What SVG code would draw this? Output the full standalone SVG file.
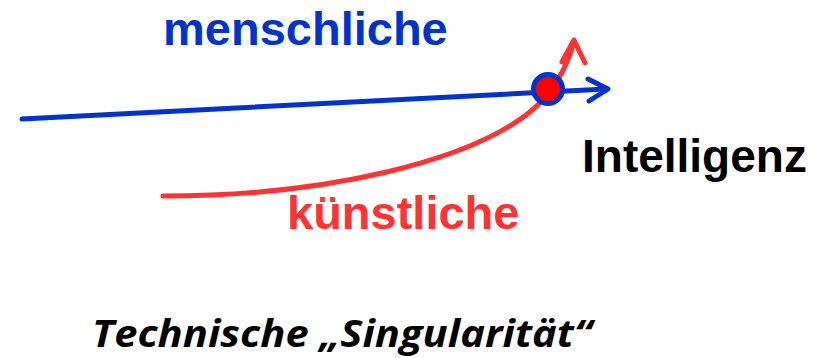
<svg xmlns="http://www.w3.org/2000/svg" width="833" height="358" viewBox="0 0 833 358">
<style>
.lbl{font-family:"Liberation Sans",Arial,sans-serif;font-weight:bold;font-size:47px}
.blue{stroke:#0033CC;fill:none;stroke-width:5;stroke-linecap:round;stroke-linejoin:round}
.red{stroke:#FF3333;fill:none;stroke-width:5;stroke-linecap:round;stroke-linejoin:round}
</style>
<rect width="833" height="358" fill="#fff"/>
<g id="connectors">
<path class="red" d="M163,196 C330,196 470,160 530,112 C552,94 566,70 574,42"/>
<path class="red" d="M562,62 L574,40 L585,63"/>
<path class="blue" d="M22,119 L606,89"/>
<path class="blue" d="M588,79 L608,89 L589,101"/>
</g>
<g id="singularity">
<circle cx="548" cy="89" r="14.5" fill="#FF0000" stroke="#0033CC" stroke-width="5"/>
</g>
<g id="menschliche"><text class="lbl" x="163" y="45" fill="#0033CC">menschliche</text></g>
<g id="kuenstliche"><text class="lbl" x="287" y="229" fill="#FF3333">künstliche</text></g>
<g id="intelligenz"><text class="lbl" x="582" y="172" fill="#000" style="font-size:46px">Intelligenz</text></g>
<g id="title"><text x="92" y="347" fill="#000" textLength="500" lengthAdjust="spacingAndGlyphs" style="font-family:'Open Sans','Noto Sans',sans-serif;font-weight:bold;font-style:italic;font-size:38px">Technische „Singularität“</text></g>
</svg>
